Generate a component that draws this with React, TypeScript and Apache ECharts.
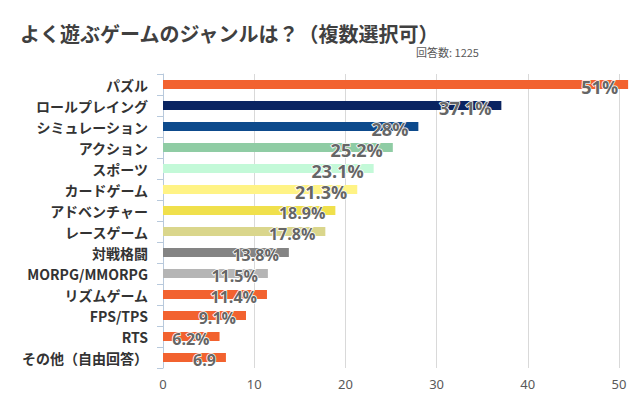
import React, { useEffect, useRef } from "react";
import * as echarts from "echarts";

const categories = [
  "パズル",
  "ロールプレイング",
  "シミュレーション",
  "アクション",
  "スポーツ",
  "カードゲーム",
  "アドベンチャー",
  "レースゲーム",
  "対戦格闘",
  "MORPG/MMORPG",
  "リズムゲーム",
  "FPS/TPS",
  "RTS",
  "その他（自由回答）",
];
const values = [51, 37.1, 28, 25.2, 23.1, 21.3, 18.9, 17.8, 13.8, 11.5, 11.4, 9.1, 6.2, 6.9];
const labelTexts = ["51%", "37.1%", "28%", "25.2%", "23.1%", "21.3%", "18.9%", "17.8%", "13.8%", "11.5%", "11.4%", "9.1%", "6.2%", "6.9"];
const barColors = [
  "#f2622f",
  "#0a2461",
  "#0d4a8c",
  "#8fcca4",
  "#c3f9d8",
  "#fff385",
  "#f0e04c",
  "#dad68c",
  "#848484",
  "#b5b5b5",
  "#f2622f",
  "#f2622f",
  "#f2622f",
  "#f2622f",
];
const xTicks = { min: 0, max: 50, interval: 10 };
const title = "よく遊ぶゲームのジャンルは？（複数選択可）";
const subtitle = "回答数: 1225";

export default function App() {
  const ref = useRef<HTMLDivElement>(null);
  useEffect(() => {
    if (!ref.current) return;
    const chart = echarts.init(ref.current, null, { renderer: "svg" });
    chart.setOption({
      animation: false,
      backgroundColor: "#ffffff",
      title: {
        text: title,
        left: 20,
        top: 21,
        padding: 0,
        textStyle: {
          fontFamily: "Noto Sans CJK JP",
          fontWeight: "bold",
          fontSize: 20,
          lineHeight: 24,
          color: "#404040",
        },
      },
      graphic: [
        {
          type: "text",
          left: 416,
          top: 46,
          style: {
            text: subtitle,
            fontFamily: "Noto Sans CJK JP",
            fontSize: 11,
            fill: "#595959",
          },
        },
      ],
      grid: { left: 163, right: 21, top: 74, bottom: 32, containLabel: false },
      xAxis: {
        type: "value",
        min: xTicks.min,
        max: xTicks.max,
        interval: xTicks.interval,
        axisLine: { show: false },
        axisTick: { show: false },
        splitLine: { lineStyle: { color: "#d9d9d9", width: 1 } },
        axisLabel: {
          color: "#595959",
          fontSize: 13,
          fontFamily: "Noto Sans",
          margin: 9,
        },
      },
      yAxis: {
        type: "category",
        inverse: true,
        data: categories,
        axisLine: { show: true, lineStyle: { color: "#b8c9dc", width: 1 } },
        axisTick: { show: true, length: 6, lineStyle: { color: "#b8c9dc" } },
        axisLabel: {
          color: "#333333",
          fontSize: 14,
          fontWeight: "bold",
          fontFamily: "Noto Sans CJK JP",
          margin: 15,
        },
      },
      series: [
        {
          type: "bar",
          barWidth: 9,
          clip: false,
          data: values.map((v, i) => ({
            value: v,
            itemStyle: { color: barColors[i] },
            label: { fontSize: v >= 20 ? 18 : 16 },
          })),
          label: {
            show: true,
            position: "insideRight",
            distance: 10,
            offset: [0, 2],
            lineHeight: 18,
            formatter: (p: any) => labelTexts[p.dataIndex],
            color: "#666666",
            fontFamily: "Open Sans",
            fontWeight: "bold",
            textBorderColor: "#ffffff",
            textBorderWidth: 1.5,
          },
        },
      ],
    });
    return () => chart.dispose();
  }, []);
  return <div ref={ref} style={{ width: 640, height: 400, position: "absolute", left: 0, top: 0 }} />;
}
